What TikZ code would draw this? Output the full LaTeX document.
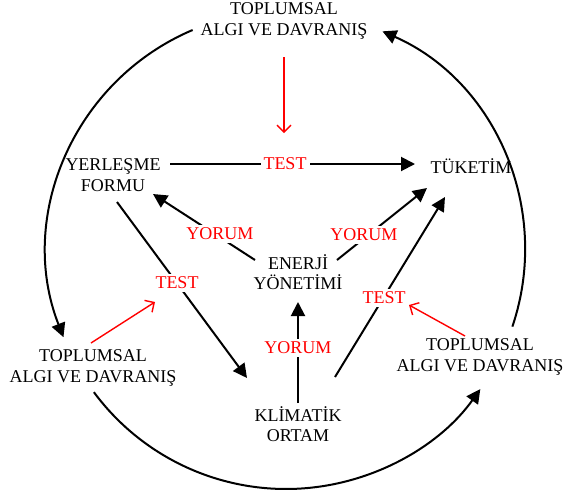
\documentclass[tikz,border=0pt]{standalone}
\usepackage{fontspec}
\setmainfont{Liberation Serif}
\usetikzlibrary{arrows.meta}

\begin{document}
\begin{tikzpicture}[x=1pt, y=1pt]
        \tikzstyle{txt}=[font=\fontsize{18}{20.5}\selectfont, align=center, inner sep=2pt]
        \tikzstyle{lbl}=[txt, text=red, fill=white, inner sep=3pt]
        \tikzstyle{link}=[black, line width=2pt, -{Triangle[length=14pt,width=14pt]}]
        \tikzstyle{hint}=[red, line width=1.4pt, -{Straight Barb[length=7pt,width=14pt]}]
        \fill [white] (0,0) rectangle (563,-491);
        \useasboundingbox (0,0) rectangle (563,-491);
        \node [txt] (topalgi) at (284,-21) {TOPLUMSAL\\ALGI VE DAVRANIŞ};
        \node [txt] (yerlesme) at (113,-175) {YERLEŞME\\FORMU};
        \node [txt] (tuketim) at (471,-166) {TÜKETİM};
        \node [txt] (enerji) at (298,-272) {ENERJİ\\YÖNETİMİ};
        \node [txt] (klimatik) at (298,-424) {KLİMATİK\\ORTAM};
        \node [txt] (leftalgi) at (93,-368) {TOPLUMSAL\\ALGI VE DAVRANIŞ};
        \node [txt] (rightalgi) at (480,-357) {TOPLUMSAL\\ALGI VE DAVRANIŞ};
        \coordinate (c) at (286,-250);
        \draw [link] ([shift={(57,11)}]yerlesme.center) -- ([shift={(-56,2)}]tuketim.center);
        \draw [link] ([shift={(4,-27)}]yerlesme.center) -- ([shift={(-51,46)}]klimatik.center);
        \draw [link] ([shift={(-43,12)}]enerji.center) -- ([shift={(40,-19)}]yerlesme.center);
        \draw [link] ([shift={(39,12)}]enerji.center) -- ([shift={(-44,-22)}]tuketim.center);
        \draw [link] ([shift={(0,21)}]klimatik.center) -- ([shift={(0,-30)}]enerji.center);
        \draw [link] ([shift={(37,47)}]klimatik.center) -- ([shift={(-26,-31)}]tuketim.center);
        \draw [link] (c) ++(113:239) arc [start angle=113, end angle=201.4, radius=239];
        \draw [link] (c) ++(216.5:239) arc [start angle=216.5, end angle=324.4, radius=239];
        \draw [link] (c) ++(341.3:239) arc [start angle=341.3, end angle=426.2, radius=239];
        \node [lbl] (testtop) at (285,-164) {TEST};
        \node [lbl] (yorumleft) at (220,-234) {YORUM};
        \node [lbl] (yorumright) at (364,-235) {YORUM};
        \node [lbl] (testleft) at (177,-283) {TEST};
        \node [lbl] (testright) at (384,-298) {TEST};
        \node [lbl] (yorummid) at (298,-348) {YORUM};
        \draw [hint] ([shift={(0,-36)}]topalgi.center) -- ([shift={(-1,31)}]testtop.center);
        \draw [hint] ([shift={(-2,25)}]leftalgi.center) -- ([shift={(-22,-19)}]testleft.center);
        \draw [hint] ([shift={(-15,21)}]rightalgi.center) -- ([shift={(25,-7)}]testright.center);
\end{tikzpicture}
\end{document}
